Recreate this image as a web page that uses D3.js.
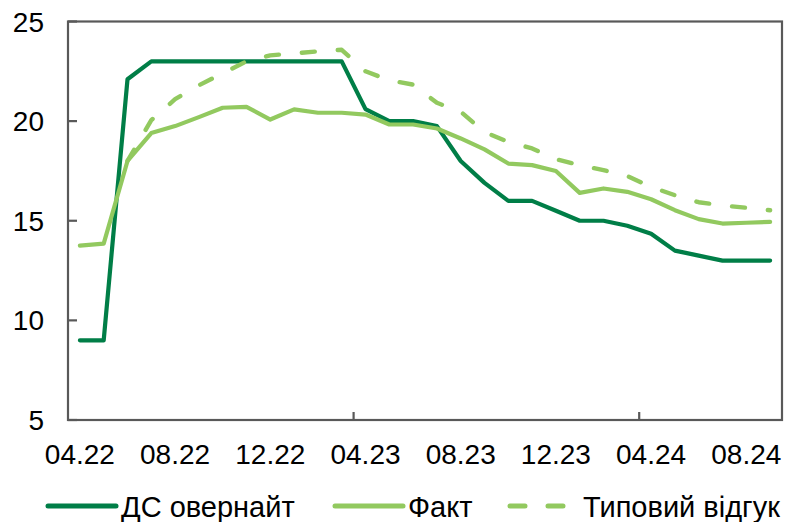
<!DOCTYPE html>
<html>
<head>
<meta charset="utf-8">
<script src="https://cdn.jsdelivr.net/npm/d3@7"></script>
<style>
  body { margin: 0; background: #fff; }
  svg text { font-family: "Liberation Sans", Arial, sans-serif; fill: #000; }
</style>
</head>
<body>
<svg id="chart" width="790" height="522"></svg>
<script>
const months = ['04.22', '05.22', '06.22', '07.22', '08.22', '09.22', '10.22', '11.22', '12.22', '01.23',
  '02.23', '03.23', '04.23', '05.23', '06.23', '07.23', '08.23', '09.23', '10.23', '11.23',
  '12.23', '01.24', '02.24', '03.24', '04.24', '05.24', '06.24', '07.24', '08.24', '09.24'];

const overnight = [9.0, 9.0, 22.1, 23, 23, 23, 23, 23, 23, 23,
  23, 23, 20.6, 20.0, 20.0, 19.75, 18.0, 16.9, 16.0, 16.0,
  15.5, 15.0, 15.0, 14.75, 14.35, 13.5, 13.25, 13.0, 13.0, 13.0];

const fact = [13.75, 13.85, 18.0, 19.4, 19.75, 20.2, 20.67, 20.72, 20.08, 20.59,
  20.42, 20.42, 20.33, 19.83, 19.83, 19.63, 19.13, 18.58, 17.87, 17.79,
  17.5, 16.4, 16.62, 16.45, 16.08, 15.53, 15.08, 14.86, 14.9, 14.94];

const typical = [null, null, 18.0, 20.05, 21.1, 21.8, 22.4, 23.0, 23.3, 23.4,
  23.5, 23.58, 22.5, 22.05, 21.83, 20.92, 20.47, 19.45, 18.96, 18.63,
  18.09, 17.79, 17.54, 17.24, 16.7, 16.28, 15.93, 15.77, 15.65, 15.53];

const yTicks = [5, 10, 15, 20, 25];
const xLabels = ['04.22', '08.22', '12.22', '04.23', '08.23', '12.23', '04.24', '08.24'];
const xTickBetween = ['04.23', '04.24'];

const seriesNames = ['ДС овернайт', 'Факт', 'Типовий відгук'];

const dark = '#007e47', light = '#92c95f', axisColor = '#595959';

const svg = d3.select('#chart');
const plotL = 68, plotR = 782, plotT = 21.5, plotB = 420;

const x = d3.scaleBand().domain(months).range([plotL, plotR]).padding(0);
const y = d3.scaleLinear().domain([5, 25]).range([plotB, plotT]);
const cx = m => x(m) + x.bandwidth() / 2;

// frame
svg.append('rect')
  .attr('x', plotL).attr('y', y(25))
  .attr('width', plotR - plotL).attr('height', y(5) - y(25))
  .attr('fill', 'none').attr('stroke', axisColor).attr('stroke-width', 2.2);

// y ticks + labels
svg.selectAll('.ytick').data(yTicks).enter().append('line')
  .attr('x1', plotL).attr('x2', plotL + 9)
  .attr('y1', d => y(d)).attr('y2', d => y(d))
  .attr('stroke', axisColor).attr('stroke-width', 2.2);

svg.selectAll('.ylab').data(yTicks).enter().append('text')
  .attr('x', 44).attr('y', d => y(d) + 10)
  .attr('text-anchor', 'end')
  .attr('font-size', 28)
  .text(d => d);

// x ticks between categories
svg.selectAll('.xtick').data(xTickBetween).enter().append('line')
  .attr('x1', d => x(d)).attr('x2', d => x(d))
  .attr('y1', plotB).attr('y2', plotB - 8)
  .attr('stroke', axisColor).attr('stroke-width', 2.2);

svg.selectAll('.xlab').data(xLabels).enter().append('text')
  .attr('x', d => cx(d)).attr('y', 464)
  .attr('text-anchor', 'middle')
  .attr('font-size', 28)
  .text(d => d);

const line = d3.line()
  .defined(d => d.v != null)
  .x(d => cx(d.m))
  .y(d => y(d.v));

const toPts = arr => arr.map((v, i) => ({ m: months[i], v: v }));

svg.append('path').datum(toPts(overnight))
  .attr('d', line)
  .attr('fill', 'none').attr('stroke', dark).attr('stroke-width', 4.2)
  .attr('stroke-linejoin', 'round').attr('stroke-linecap', 'round');

svg.append('path').datum(toPts(fact))
  .attr('d', line)
  .attr('fill', 'none').attr('stroke', light).attr('stroke-width', 4.2)
  .attr('stroke-linejoin', 'round').attr('stroke-linecap', 'round');

svg.append('path').datum(toPts(typical))
  .attr('d', line)
  .attr('fill', 'none').attr('stroke', light).attr('stroke-width', 4.4)
  .attr('stroke-dasharray', '13,23')
  .attr('stroke-linejoin', 'round').attr('stroke-linecap', 'round');

// legend
const legendX = [48, 335, 510];
const legendColors = [dark, light, light];
const legendDash = [null, null, '15,23'];
const ly = 506;

const leg = svg.selectAll('.leg').data(seriesNames).enter().append('g');
leg.append('line')
  .attr('x1', (d, i) => legendX[i]).attr('x2', (d, i) => legendX[i] + 68)
  .attr('y1', ly).attr('y2', ly)
  .attr('stroke', (d, i) => legendColors[i])
  .attr('stroke-width', 5)
  .attr('stroke-linecap', 'round')
  .attr('stroke-dasharray', (d, i) => legendDash[i]);
leg.append('text')
  .attr('x', (d, i) => legendX[i] + 73)
  .attr('y', ly + 11)
  .attr('font-size', 29)
  .text(d => d);
</script>
</body>
</html>
